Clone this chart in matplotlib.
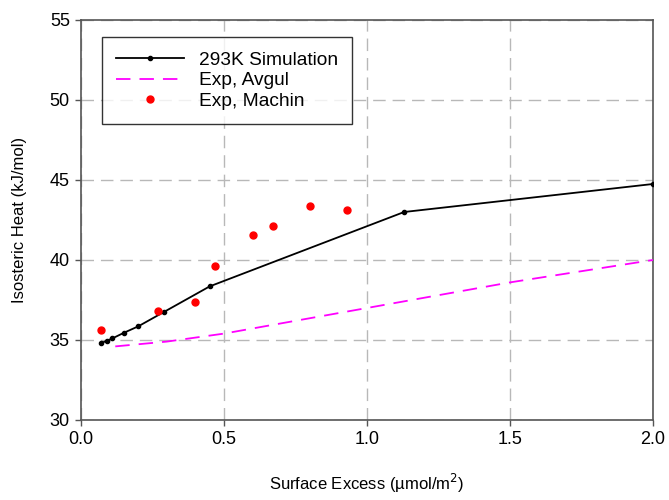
import matplotlib.pyplot as plt

plt.rcParams['font.family'] = ['Liberation Sans', 'DejaVu Sans']

# 293K simulation
sim_x = [0.07, 0.09, 0.11, 0.15, 0.20, 0.29, 0.45, 1.13, 2.0]
sim_y = [34.8, 34.95, 35.1, 35.45, 35.85, 36.75, 38.35, 43.0, 44.75]

# Exp, Avgul
avg_x = [0.12, 0.3, 0.5, 0.75, 1.0, 1.25, 1.5, 1.75, 2.0]
avg_y = [34.6, 34.9, 35.4, 36.2, 37.0, 37.8, 38.6, 39.3, 40.0]

# Exp, Machin
mac_x = [0.07, 0.27, 0.40, 0.47, 0.60, 0.67, 0.80, 0.93]
mac_y = [35.65, 36.8, 37.4, 39.6, 41.55, 42.1, 43.4, 43.1]

fig = plt.figure(figsize=(6.69, 5.0), dpi=100)
ax = fig.add_axes([0.121, 0.16, 0.855, 0.80])

ax.plot(sim_x, sim_y, color='black', lw=1.3, marker='o', ms=3, label='293K Simulation', zorder=3)
ax.plot(avg_x, avg_y, color='#ff00ff', lw=1.3, dashes=(8, 5), label='Exp, Avgul', zorder=3)
ax.plot(mac_x, mac_y, ls='none', marker='o', ms=5, color='red', label='Exp, Machin', zorder=4)

ax.set_xlim(0, 2.0)
ax.set_ylim(30, 55)
ax.set_xticks([0.0, 0.5, 1.0, 1.5, 2.0])
ax.set_xticklabels(['0.0', '0.5', '1.0', '1.5', '2.0'])
ax.set_yticks(range(30, 56, 5))
ax.grid(True, color='#b8b8b8', ls=(0, (9, 5)), lw=1)
ax.set_axisbelow(True)
for s in ax.spines.values():
    s.set_color('#555555')
    s.set_linewidth(1.2)
ax.tick_params(direction='out', length=4, width=1, color='#555555', labelsize=13, pad=4)

ax.set_xlabel('Surface Excess (\u00b5mol/m$^2$)', fontsize=12, labelpad=17)
ax.set_ylabel('Isosteric Heat (kJ/mol)', fontsize=12, labelpad=16)

leg = ax.legend(loc='upper left', bbox_to_anchor=(0.037, 0.957), borderaxespad=0,
                fontsize=13.8, frameon=True, fancybox=False, edgecolor='black',
                handlelength=3.5, borderpad=0.75, labelspacing=0.15, handletextpad=0.8)
leg.get_frame().set_linewidth(1.0)

fig.savefig('out.png', dpi=100)
